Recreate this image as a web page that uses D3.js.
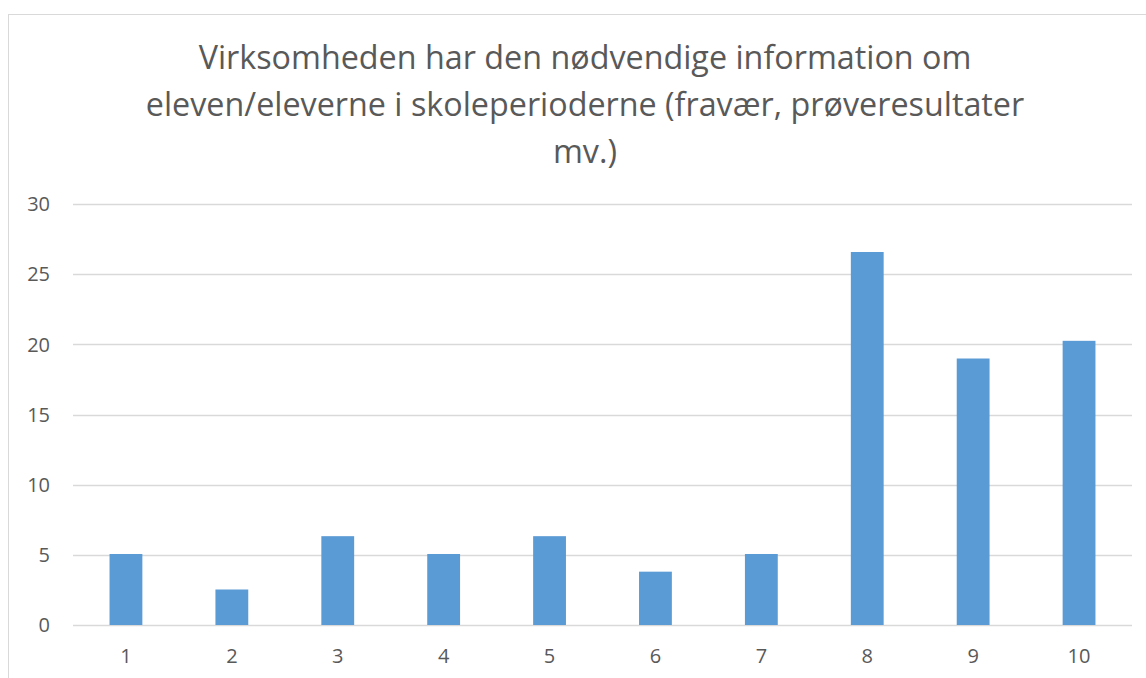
<!DOCTYPE html>
<html>
<head>
<meta charset="utf-8">
<script src="https://cdn.jsdelivr.net/npm/d3@7"></script>
<style>
  body { margin: 0; background: #fff; }
  svg text { font-family: "Open Sans", "Noto Sans", sans-serif; fill: #595959; }
</style>
</head>
<body>
<div id="chart"></div>
<script>
// chart values (percent of answers per score)
const categories = ["1", "2", "3", "4", "5", "6", "7", "8", "9", "10"];
const values = [5.06, 2.53, 6.33, 5.06, 6.33, 3.80, 5.06, 26.58, 18.99, 20.25];
const yTicks = [0, 5, 10, 15, 20, 25, 30];
const titleLines = [
  "Virksomheden har den nødvendige information om",
  "eleven/eleverne i skoleperioderne (fravær, prøveresultater",
  "mv.)"
];

const widthSvg = 1146, heightSvg = 678;
const margin = {top: 204, right: 14, bottom: 53, left: 73};
const width = 1132 - margin.left;
const height = 625 - margin.top;

const svg = d3.select("#chart").append("svg")
  .attr("width", widthSvg)
  .attr("height", heightSvg);

// chart frame (runs off the right/bottom edges like the source)
svg.append("rect")
  .attr("x", 8.5).attr("y", 14.5)
  .attr("width", 1160).attr("height", 700)
  .attr("fill", "none")
  .attr("stroke", "#d9d9d9");

svg.append("g").selectAll("text")
  .data(titleLines)
  .enter().append("text")
  .attr("x", 585)
  .attr("y", (d, i) => 68.5 + i * 47)
  .attr("text-anchor", "middle")
  .style("font-size", "32.3px")
  .text(d => d);

const x = d3.scaleBand().domain(categories).range([0, width]).paddingInner(0.69).paddingOuter(0.345);
const y = d3.scaleLinear().domain([0, 30]).range([height, 0]);

const g = svg.append("g").attr("transform", "translate(" + margin.left + "," + margin.top + ")");

// gridlines
g.append("g").selectAll("line")
  .data(yTicks)
  .enter().append("line")
  .attr("x1", 0).attr("x2", width)
  .attr("y1", d => Math.round(y(d)) + 0.5)
  .attr("y2", d => Math.round(y(d)) + 0.5)
  .attr("stroke", "#d9d9d9")
  .attr("stroke-width", 1.3);

// y labels
g.append("g").selectAll("text")
  .data(yTicks)
  .enter().append("text")
  .attr("x", -23)
  .attr("y", d => y(d) + 7.3)
  .attr("text-anchor", "end")
  .style("font-size", "20px")
  .text(d => d);

// bars
g.selectAll(".bar")
  .data(values)
  .enter().append("rect")
  .attr("class", "bar")
  .attr("x", (d, i) => x(categories[i]))
  .attr("y", d => y(d))
  .attr("width", x.bandwidth())
  .attr("height", d => height - y(d))
  .attr("fill", "#5b9bd5");

// x labels
g.append("g").selectAll("text")
  .data(categories)
  .enter().append("text")
  .attr("x", d => x(d) + x.bandwidth() / 2)
  .attr("y", height + 37.7)
  .attr("text-anchor", "middle")
  .style("font-size", "20px")
  .text(d => d);
</script>
</body>
</html>
